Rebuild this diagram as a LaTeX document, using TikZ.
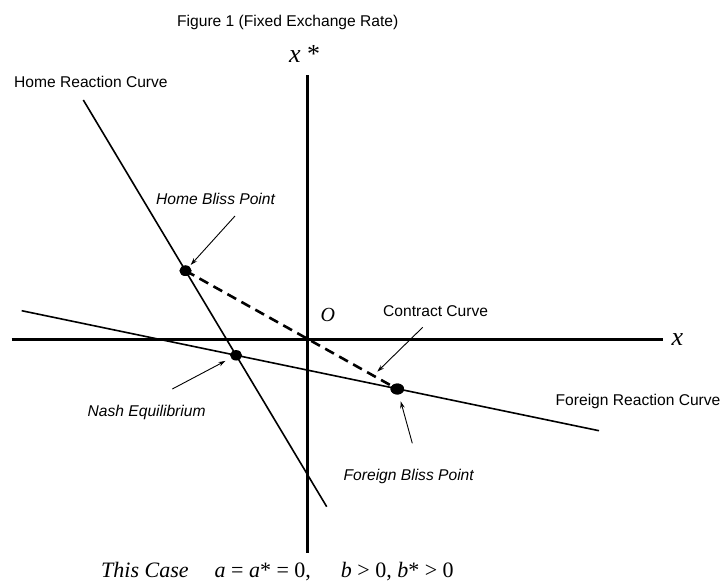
\documentclass[tikz,border=0pt]{standalone}
\usepackage{fontspec}
\setmainfont{Liberation Sans}
\newfontfamily\tnr{Liberation Serif}
\usetikzlibrary{arrows.meta,shapes.geometric}
\begin{document}
\begin{tikzpicture}[x=1pt,y=-1pt,
  lbl/.style={anchor=base west,inner sep=0pt,font=\fontsize{15.6}{18}\selectfont},
  ilbl/.style={anchor=base west,inner sep=0pt,font=\fontsize{15.6}{18}\selectfont\itshape},
  mlbl/.style={anchor=base west,inner sep=0pt},
  axisline/.style={line width=2.6pt},
  react/.style={line width=1.6pt},
  contract/.style={line width=2.6pt,dash pattern=on 10pt off 6pt},
  dot/.style={ellipse,fill=black,inner sep=0pt,minimum width=12pt,minimum height=10.5pt},
  pointer/.style={line width=0.9pt,-{Stealth[length=7pt,width=4.5pt]}}
]
\useasboundingbox (0,0) rectangle (722,581);
% axes
\coordinate (ytop) at (307.5,75);
\coordinate (ybot) at (307.5,553);
\coordinate (xleft) at (11.7,339.3);
\coordinate (xright) at (663.3,339.3);
\draw[axisline] (ytop) -- (ybot);
\draw[axisline] (xleft) -- (xright);
% reaction curves
\coordinate (h1) at (83.3,100);
\coordinate (h2) at (326.7,506.7);
\coordinate (f1) at (21.7,310.7);
\coordinate (f2) at (599,430.7);
\draw[react] (h1) -- (h2);
\draw[react] (f1) -- (f2);
% points
\node[dot] (hb) at (185.5,270.7) {};
\node[dot] (ne) at (236.1,355.3) {};
\node[dot,minimum width=13.5pt,minimum height=11pt] (fb) at (397.3,389) {};
% contract curve
\draw[contract] (hb.center) -- (fb.center);
\node[dot] at (hb) {};
\node[dot,minimum width=13.5pt,minimum height=11pt] at (fb) {};
% pointers
\coordinate (hbt) at (235,216);
\coordinate (net) at (172.3,389);
\coordinate (cct) at (422.7,327.3);
\coordinate (cch) at (377.3,371.7);
\coordinate (fbt) at (412.3,443.3);
\draw[pointer,shorten >=2pt] (hbt) -- (hb);
\draw[pointer,shorten >=6pt] (net) -- (ne);
\draw[pointer] (cct) -- (cch);
\draw[pointer,shorten >=7pt] (fbt) -- (fb);
% labels
\node[lbl] (title) at (177,26.7) {Figure 1 (Fixed Exchange Rate)};
\node[lbl] (hrc) at (14,87.3) {Home Reaction Curve};
\node[ilbl] (hbp) at (156,204) {Home Bliss Point};
\node[ilbl] (nel) at (87.5,416.7) {Nash Equilibrium};
\node[lbl] (ccl) at (383,316.7) {Contract Curve};
\node[lbl] (frc) at (555.5,405) {Foreign Reaction Curve};
\node[ilbl] (fbp) at (343.5,480) {Foreign Bliss Point};
\node[mlbl,font=\tnr\fontsize{26}{30}\selectfont] (xs) at (289,62.3) {\textit{x} *};
\node[mlbl,font=\tnr\fontsize{26}{30}\selectfont\itshape] (xl) at (671.5,345) {x};
\node[mlbl,font=\tnr\fontsize{20}{24}\selectfont\itshape] (ol) at (320.5,321.7) {O};
\node[mlbl,font=\tnr\fontsize{22}{26}\selectfont] (case) at (101,577.3) {\textit{This Case}\hspace{26pt}\textit{a} = \textit{a}* = 0,\hspace{30pt}\textit{b} > 0, \textit{b}* > 0};
\end{tikzpicture}
\end{document}
